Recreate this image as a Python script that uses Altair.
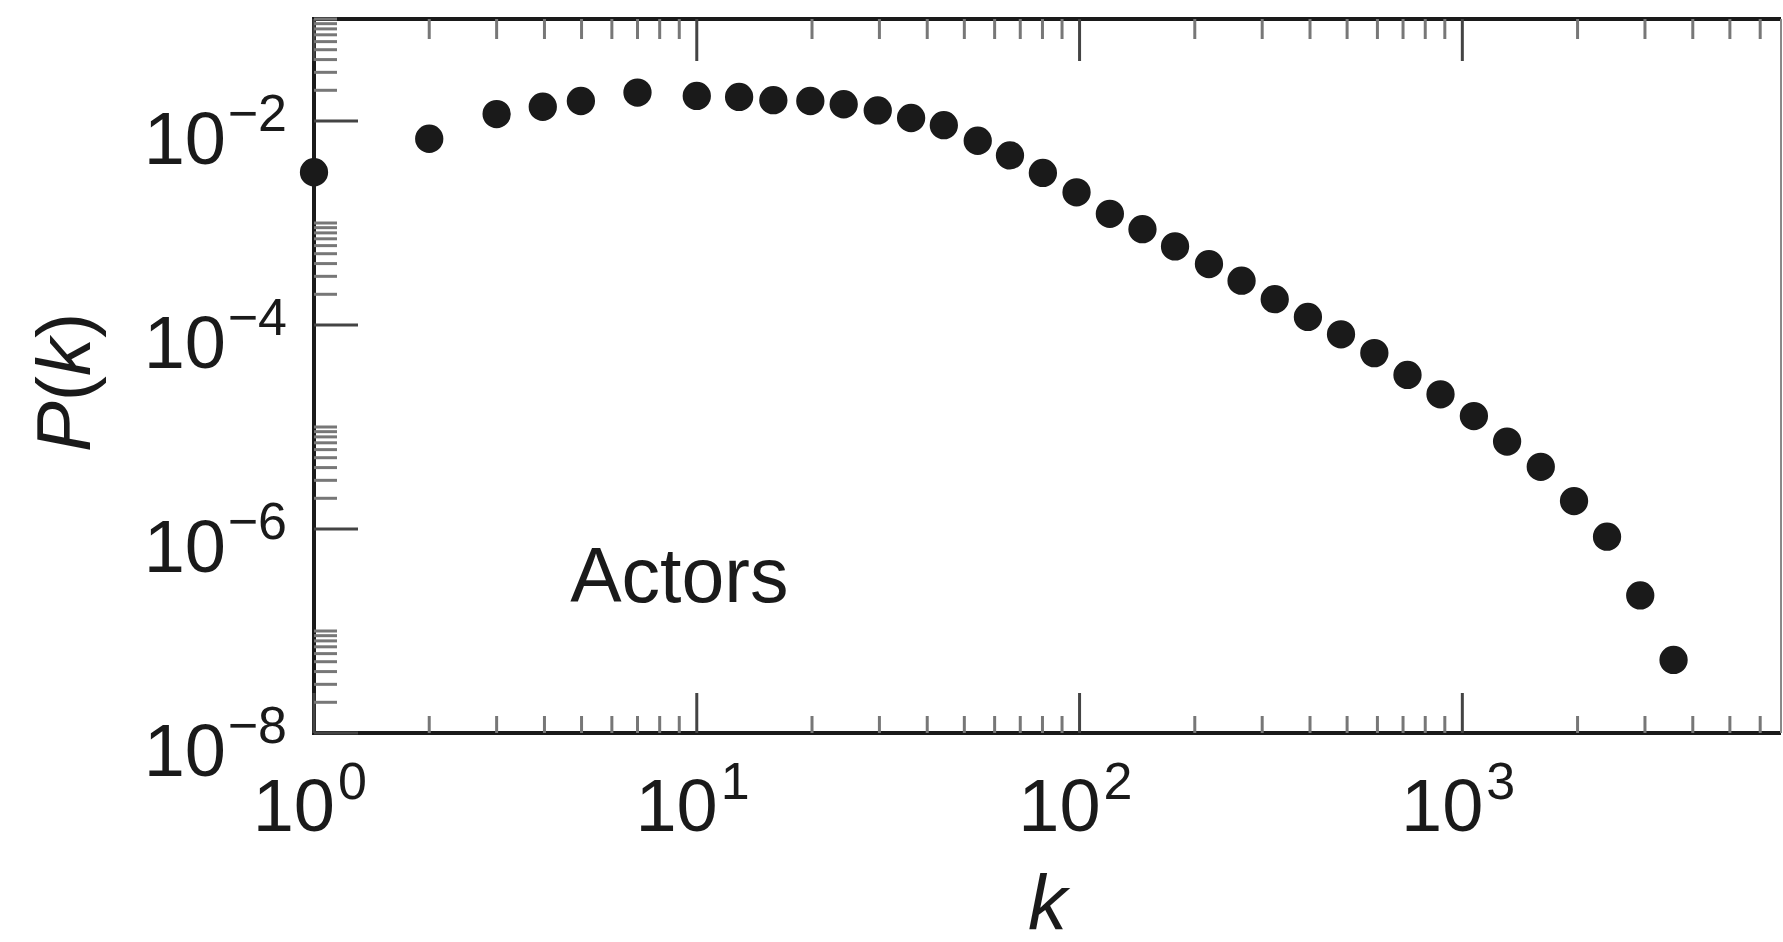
import altair as alt
import pandas as pd

# Degree distribution of the movie-actor collaboration network
k_values = [1, 2, 3, 3.96, 4.98, 7.0, 10, 12.9, 15.85, 19.8, 24.2, 29.7, 36.3,
            44.2, 54.2, 65.8, 80.2, 98.2, 120, 146, 177.6, 217.8, 265, 323.5,
            395, 482, 589, 719, 877, 1072, 1309, 1603, 1958, 2388, 2916, 3563]
pk_values = [3.15e-3, 6.7e-3, 1.17e-2, 1.38e-2, 1.57e-2, 1.90e-2, 1.76e-2,
             1.72e-2, 1.60e-2, 1.57e-2, 1.46e-2, 1.27e-2, 1.07e-2, 9.1e-3,
             6.4e-3, 4.6e-3, 3.1e-3, 2.0e-3, 1.23e-3, 8.7e-4, 5.9e-4, 3.96e-4,
             2.72e-4, 1.79e-4, 1.20e-4, 8.1e-5, 5.3e-5, 3.24e-5, 2.09e-5,
             1.28e-5, 7.2e-6, 4.07e-6, 1.88e-6, 8.4e-7, 2.23e-7, 5.2e-8]

# Tick positions and labels
x_major = [1, 10, 100, 1000]
x_exponents = ["0", "1", "2", "3"]
x_minor = [m * 10 ** n for n in range(4) for m in range(2, 10) if m * 10 ** n < 6800]
y_major = [1e-2, 1e-4, 1e-6, 1e-8]
y_exponents = ["\u22122", "\u22124", "\u22126", "\u22128"]
y_minor = [m * 10.0 ** n for n in (-2, -4, -6, -8) for m in range(2, 11)]

W, H = 1467, 714
FONT = "Liberation Sans"
INK = "#1a1a1a"
BIG, SUP = 74, 52

xs = alt.Scale(type="log", domain=[1, 6800], nice=False)
ys = alt.Scale(type="log", domain=[1e-8, 1e-1], nice=False)

points = pd.DataFrame({"k": k_values, "p": pk_values})
xmaj = pd.DataFrame({"k": x_major, "e": x_exponents, "b": ["10"] * 4})
xmin = pd.DataFrame({"k": x_minor})
ymaj = pd.DataFrame({"p": y_major, "e": y_exponents, "b": ["10"] * 4})
ymin = pd.DataFrame({"p": y_minor})
one = pd.DataFrame({"t": [""]})

X = alt.X("k:Q", scale=xs, axis=None)
Y = alt.Y("p:Q", scale=ys, axis=None)

layers = []

# frame: heavy left, top and bottom edges, light right edge
for x1, x2, y1, y2, col, sw in ((0, 0, -2, H + 2, INK, 4), (-2, W, 0, 0, INK, 4),
                                (-2, W, H, H, INK, 4), (W, W, 0, H, "#888", 2)):
    layers.append(alt.Chart(one).mark_rule(color=col, strokeWidth=sw).encode(
        x=alt.value(x1), x2=alt.value(x2), y=alt.value(y1), y2=alt.value(y2)))

# inward ticks on the bottom and top edges
for df, lb, lt, col in ((xmaj, 40, 42, "#444"), (xmin, 17, 20, "#777")):
    layers.append(alt.Chart(df).mark_rule(color=col, strokeWidth=3).encode(
        x=X, y=alt.value(H), y2=alt.value(H - lb)))
    layers.append(alt.Chart(df).mark_rule(color=col, strokeWidth=3).encode(
        x=X, y=alt.value(0), y2=alt.value(lt)))

# inward ticks on the left edge
for df, ln, col in ((ymaj, 44, "#444"), (ymin, 23, "#777")):
    layers.append(alt.Chart(df).mark_rule(color=col, strokeWidth=3).encode(
        y=Y, x=alt.value(0), x2=alt.value(ln)))

# data points
layers.append(alt.Chart(points).mark_circle(size=800, color=INK, opacity=1).encode(
    x=X, y=Y))

# x tick labels: "10" with a raised exponent
layers.append(alt.Chart(xmaj).mark_text(
    font=FONT, fontSize=BIG, color=INK, align="right", baseline="alphabetic", dx=21
).encode(x=X, y=alt.value(H + 98), text="b:N"))
layers.append(alt.Chart(xmaj).mark_text(
    font=FONT, fontSize=SUP, color=INK, align="left", baseline="alphabetic", dx=24
).encode(x=X, y=alt.value(H + 66), text="e:N"))

# y tick labels
layers.append(alt.Chart(ymaj).mark_text(
    font=FONT, fontSize=BIG, color=INK, align="right", baseline="alphabetic", dy=43
).encode(y=Y, x=alt.value(-88), text="b:N"))
layers.append(alt.Chart(ymaj).mark_text(
    font=FONT, fontSize=SUP, color=INK, align="right", baseline="alphabetic", dy=10
).encode(y=Y, x=alt.value(-27), text="e:N"))

# y axis title P(k): italic letters, upright parentheses, read bottom to top
TS = 76
pieces = [("P", "italic", 0.667), ("(", "normal", 0.333),
          ("k", "italic", 0.5), (")", "normal", 0.333)]
pos = 433.0
for txt, style, adv in pieces:
    layers.append(alt.Chart(pd.DataFrame({"t": [txt]})).mark_text(
        font=FONT, fontSize=TS, fontStyle=style, color=INK, angle=270,
        align="left", baseline="alphabetic"
    ).encode(x=alt.value(-224), y=alt.value(pos), text="t:N"))
    pos -= adv * TS

# x axis title
layers.append(alt.Chart(pd.DataFrame({"t": ["k"]})).mark_text(
    font=FONT, fontSize=78, fontStyle="italic", color=INK,
    align="center", baseline="alphabetic"
).encode(x=alt.value(W / 2), y=alt.value(H + 197), text="t:N"))

# panel label
layers.append(alt.Chart(pd.DataFrame({"k": [4.67], "p": [1.93e-7], "t": ["Actors"]})).mark_text(
    font=FONT, fontSize=77, color=INK, align="left", baseline="alphabetic"
).encode(x=X, y=Y, text="t:N"))

chart = alt.layer(*layers).properties(
    width=W, height=H,
    autosize=alt.AutoSizeParams(type="none"),
    padding={"left": 314, "top": 19, "right": 2, "bottom": 209},
    background="white",
).configure_view(stroke=None)

chart.save("out.html", embed_options={"renderer": "svg", "actions": False})
